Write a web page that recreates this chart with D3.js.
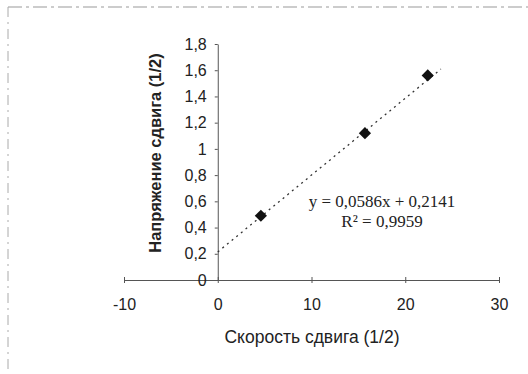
<!DOCTYPE html>
<html>
<head>
<meta charset="utf-8">
<script src="https://d3js.org/d3.v7.min.js"></script>
<style>
  html, body { margin: 0; padding: 0; background: #fff; }
  svg text { font-family: "Liberation Sans", Arial, sans-serif; fill: #222; }
</style>
</head>
<body>
<div id="chart"></div>
<script>
/* ---- data ---- */
const shearRate   = [4.6, 15.7, 22.4];     // x, (1/2)
const shearStress = [0.49, 1.12, 1.56];    // y, (1/2)
const xTicks = [-10, 0, 10, 20, 30];
const yTicks = [0, 0.2, 0.4, 0.6, 0.8, 1, 1.2, 1.4, 1.6, 1.8];
const trendSlope = 0.0586;
const trendIntercept = 0.2141;
const trendRange = [0, 23.8];
const eqLines = ['y = 0,0586x + 0,2141', 'R² = 0,9959'];

const W = 528, H = 374;
const x = d3.scaleLinear().domain([-10, 30]).range([124, 499]);
const y = d3.scaleLinear().domain([0, 1.8]).range([280, 44]);
const fmt = d => d === 0 || d === 1 ? String(d) : d3.format('.1f')(d).replace('.', ',');

const svg = d3.select('#chart').append('svg')
  .attr('width', W).attr('height', H);

/* scanned page frame */
svg.append('line').attr('x1', 8).attr('x2', W).attr('y1', 7).attr('y2', 7)
  .attr('stroke', '#999').attr('stroke-dasharray', '14,4,3,4');
svg.append('line').attr('x1', 8).attr('x2', 8).attr('y1', 7).attr('y2', H)
  .attr('stroke', '#aaa').attr('stroke-dasharray', '10,5,2,5');

/* x axis, crossing at y = 0 */
const gx = svg.append('g').attr('transform', `translate(0,${y(0)})`)
  .call(d3.axisBottom(x).tickValues(xTicks).tickSize(3).tickSizeOuter(0).tickFormat(d => d));
gx.select('.domain').attr('stroke', '#555');
gx.selectAll('.tick line').attr('stroke', '#555').attr('y1', -3).attr('y2', 3);
gx.selectAll('.tick text').attr('y', 19).attr('font-size', 16)
  .style('font-family', '"Liberation Sans", Arial, sans-serif').attr('fill', '#222');

/* y axis, crossing at x = 0 */
const gy = svg.append('g').attr('transform', `translate(${x(0)},0)`)
  .call(d3.axisLeft(y).tickValues(yTicks).tickSize(3).tickSizeOuter(0).tickFormat(fmt));
gy.select('.domain').attr('stroke', '#555');
gy.selectAll('.tick line').attr('stroke', '#555');
gy.selectAll('.tick text').attr('x', -11).attr('font-size', 16)
  .style('font-family', '"Liberation Sans", Arial, sans-serif').attr('fill', '#222');

/* linear trend line */
svg.append('line')
  .attr('x1', x(trendRange[0])).attr('y1', y(trendSlope * trendRange[0] + trendIntercept))
  .attr('x2', x(trendRange[1])).attr('y2', y(trendSlope * trendRange[1] + trendIntercept))
  .attr('stroke', '#333').attr('stroke-width', 1.3).attr('stroke-dasharray', '2,4');

/* data points */
svg.append('g').selectAll('path')
  .data(shearRate.map((v, i) => [v, shearStress[i]]))
  .join('path')
  .attr('d', d3.symbol(d3.symbolDiamond2, 95))
  .attr('transform', d => `translate(${x(d[0])},${y(d[1])})`)
  .attr('fill', '#111');

/* trend equation */
svg.append('g').selectAll('text')
  .data(eqLines)
  .join('text')
  .attr('x', 382).attr('y', (d, i) => 207 + i * 20)
  .attr('text-anchor', 'middle')
  .attr('font-size', 17)
  .style('font-family', '"Liberation Serif", "Times New Roman", serif')
  .text(d => d);

/* axis titles */
svg.append('text')
  .attr('x', 312).attr('y', 343)
  .attr('text-anchor', 'middle').attr('font-size', 17.5)
  .text('Скорость сдвига (1/2)');

svg.append('text')
  .attr('transform', 'translate(161,153) rotate(-90)')
  .attr('text-anchor', 'middle').attr('font-size', 16.5).attr('font-weight', 'bold')
  .text('Напряжение сдвига (1/2)');
</script>
</body>
</html>
